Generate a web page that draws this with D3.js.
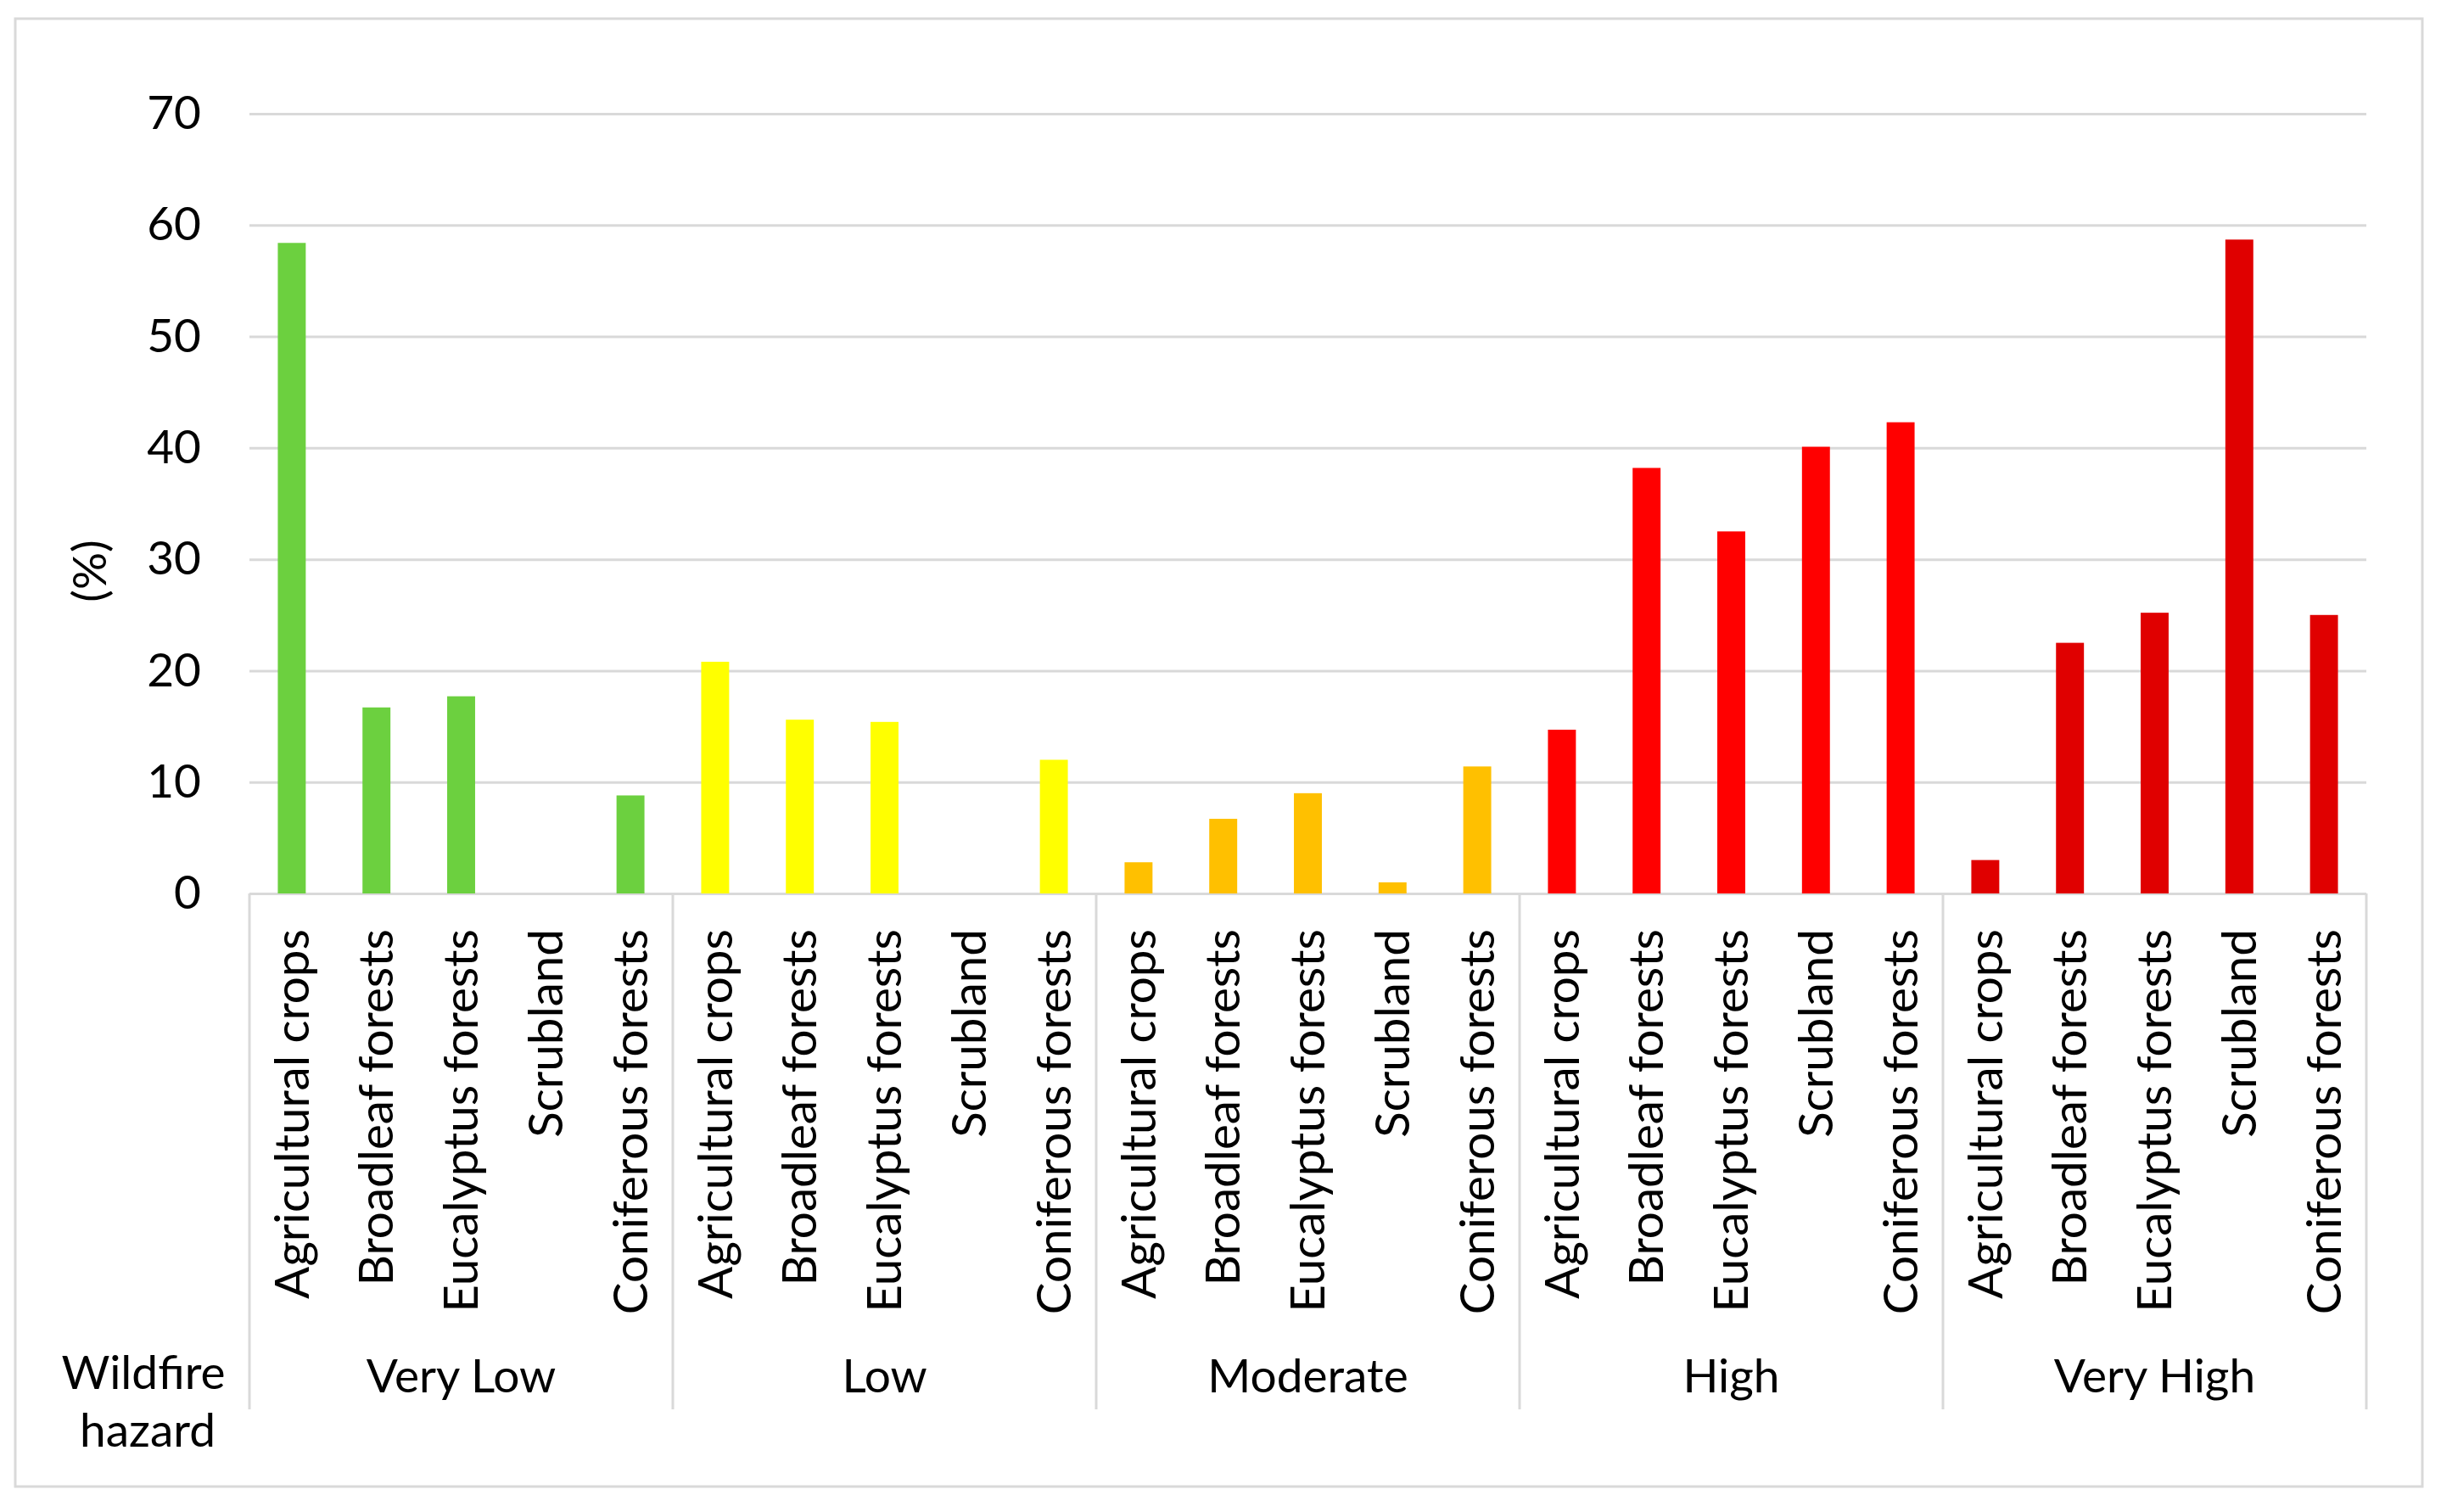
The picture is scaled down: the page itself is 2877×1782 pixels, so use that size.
<!DOCTYPE html>
<html lang="en">
<head>
    <meta charset="UTF-8">
    <title>Wildfire hazard by land cover</title>
    <script src="https://cdnjs.cloudflare.com/ajax/libs/d3/7.8.5/d3.min.js"></script>
    <style>
        body { margin: 0; background: #fff; }
        text { font-family: Lato, "Open Sans", sans-serif; fill: #000; }
    </style>
</head>
<body>
<svg id="chart" width="2877" height="1782"></svg>

<script>
    // hazard classes along the x axis, land covers inside each class
    const hazards = ["Very Low", "Low", "Moderate", "High", "Very High"];
    const landCovers = ["Agricultural crops", "Broadleaf forests", "Eucalyptus forests", "Scrubland", "Coniferous forests"];
    const hazardColors = ["#6CD03F", "#FFFF00", "#FFC000", "#FF0000", "#E00000"];

    // percentage values, one list per hazard class (same order as landCovers)
    const veryLow = [58.4, 16.7, 17.7, 0, 8.8];
    const low = [20.8, 15.6, 15.4, 0, 12.0];
    const moderate = [2.8, 6.7, 9.0, 1.0, 11.4];
    const high = [14.7, 38.2, 32.5, 40.1, 42.3];
    const veryHigh = [3.0, 22.5, 25.2, 58.7, 25.0];
    const yTicks = [0, 10, 20, 30, 40, 50, 60, 70];

    const values = [veryLow, low, moderate, high, veryHigh];

    const plotLeft = 294, plotRight = 2789, plotTop = 134, plotBottom = 1053;
    const sepBottom = 1661;
    const fontSize = 55;
    const labelSize = 56.5;

    const svg = d3.select("#chart");

    // outer chart border
    svg.append("rect")
        .attr("x", 18).attr("y", 22)
        .attr("width", 2837).attr("height", 1730)
        .attr("fill", "none")
        .attr("stroke", "#D9D9D9")
        .attr("stroke-width", 3);

    const x0 = d3.scaleBand()
        .domain(hazards)
        .range([plotLeft, plotRight]);

    const x1 = d3.scaleBand()
        .domain(landCovers)
        .range([0, x0.bandwidth()])
        .paddingInner(0.67)
        .paddingOuter(0.335);

    const y = d3.scaleLinear()
        .domain([0, 70])
        .range([plotBottom, plotTop]);

    // y axis + gridlines
    const yAxis = svg.append("g")
        .attr("transform", "translate(" + plotLeft + ",0)")
        .call(d3.axisLeft(y)
            .tickValues(yTicks)
            .tickSize(-(plotRight - plotLeft))
            .tickPadding(57));
    yAxis.select(".domain").remove();
    yAxis.selectAll(".tick line")
        .attr("stroke", "#D9D9D9")
        .attr("stroke-width", 3);
    yAxis.selectAll(".tick text")
        .attr("font-size", fontSize)
        .style("font-family", "Lato, sans-serif")
        .attr("fill", "#000");

    // y axis title
    svg.append("text")
        .attr("transform", "translate(106,673) rotate(-90)")
        .attr("text-anchor", "middle")
        .attr("dy", "0.35em")
        .attr("font-size", fontSize)
        .text("(%)");

    // bars
    const groups = svg.append("g").selectAll("g")
        .data(hazards)
        .join("g")
        .attr("transform", d => "translate(" + x0(d) + ",0)");

    groups.selectAll("rect")
        .data((h, i) => landCovers.map((lc, j) => ({ lc: lc, v: values[i][j], c: hazardColors[i] })))
        .join("rect")
        .attr("x", d => x1(d.lc))
        .attr("width", x1.bandwidth())
        .attr("y", d => y(d.v))
        .attr("height", d => y(0) - y(d.v))
        .attr("fill", d => d.c);

    // rotated land cover labels
    groups.selectAll("text.lc")
        .data(landCovers)
        .join("text")
        .attr("class", "lc")
        .attr("transform", d => "translate(" + (x1(d) + x1.bandwidth() / 2) + "," + (plotBottom + 42) + ") rotate(-90)")
        .attr("text-anchor", "end")
        .attr("dy", "0.35em")
        .attr("font-size", labelSize)
        .text(d => d);

    // hazard class labels
    groups.append("text")
        .attr("x", x0.bandwidth() / 2)
        .attr("y", 1641)
        .attr("text-anchor", "middle")
        .attr("font-size", fontSize)
        .text(d => d);

    // group separators under the axis
    svg.append("g").selectAll("line")
        .data(hazards.map(h => x0(h)).concat([plotRight]))
        .join("line")
        .attr("x1", d => d).attr("x2", d => d)
        .attr("y1", plotBottom).attr("y2", sepBottom)
        .attr("stroke", "#D9D9D9")
        .attr("stroke-width", 3);

    // header of the category axis
    svg.append("text")
        .attr("x", 169).attr("y", 1637)
        .attr("text-anchor", "middle")
        .attr("font-size", fontSize)
        .text("Wildfire");
    svg.append("text")
        .attr("x", 174).attr("y", 1705)
        .attr("text-anchor", "middle")
        .attr("font-size", fontSize)
        .text("hazard");
</script>
</body>
</html>
